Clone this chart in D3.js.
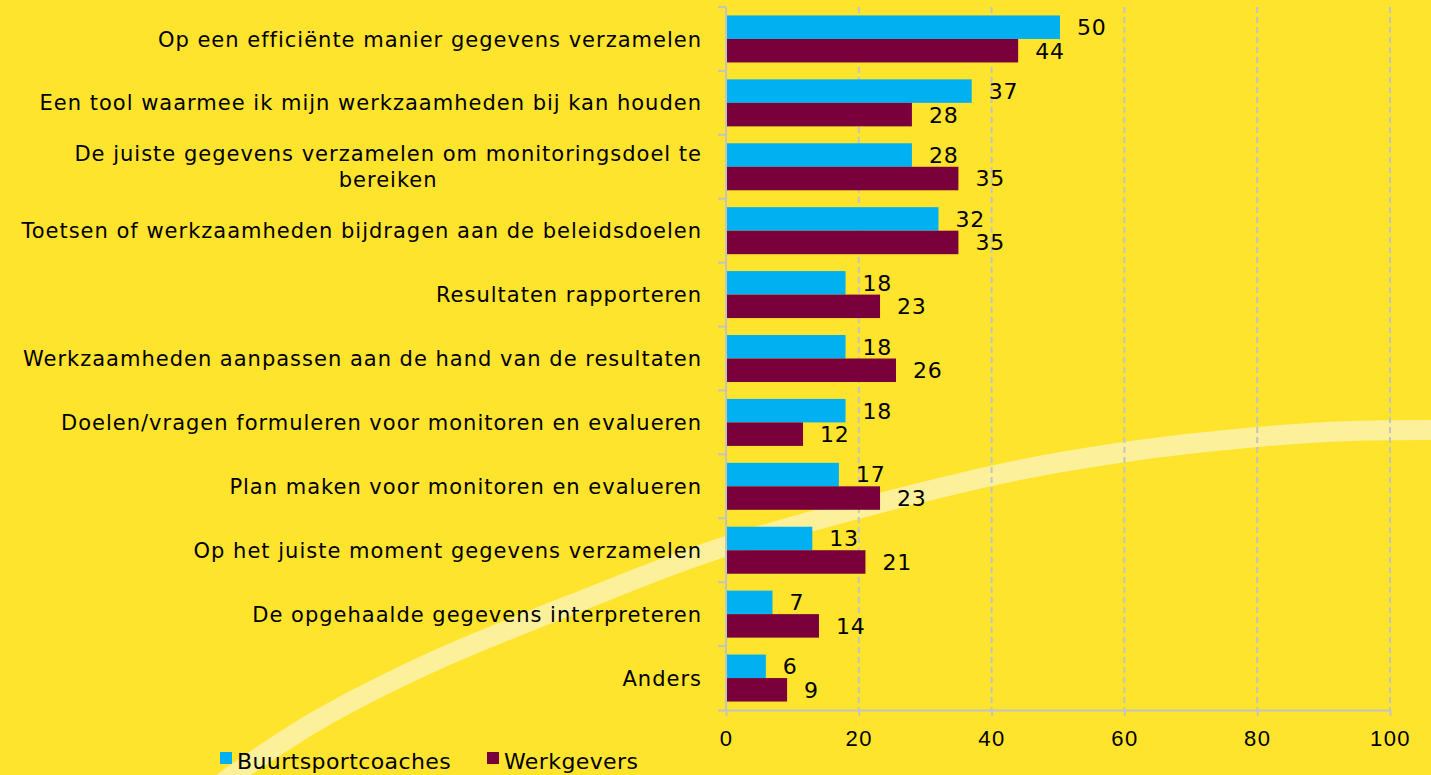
<!DOCTYPE html>
<html>
<head>
<meta charset="utf-8">
<script src="https://cdn.jsdelivr.net/npm/d3@7"></script>
<style>
  html, body { margin: 0; padding: 0; background: #ffe42d; }
  svg { display: block; font-family: "DejaVu Sans", sans-serif; }
</style>
</head>
<body>
<div id="container"></div>
<script>
const width = 1431;
const height = 775;

// data
const categories = [
  "Op een efficiënte manier gegevens verzamelen",
  "Een tool waarmee ik mijn werkzaamheden bij kan houden",
  "De juiste gegevens verzamelen om monitoringsdoel te bereiken",
  "Toetsen of werkzaamheden bijdragen aan de beleidsdoelen",
  "Resultaten rapporteren",
  "Werkzaamheden aanpassen aan de hand van de resultaten",
  "Doelen/vragen formuleren voor monitoren en evalueren",
  "Plan maken voor monitoren en evalueren",
  "Op het juiste moment gegevens verzamelen",
  "De opgehaalde gegevens interpreteren",
  "Anders"
];
const seriesNames = ["Buurtsportcoaches", "Werkgevers"];
const buurtsportcoaches = [50.3, 37, 28, 32, 18, 18, 18, 17, 13, 7, 6];
const werkgevers = [44, 28, 35, 35, 23.2, 25.6, 11.6, 23.2, 21, 14, 9.2];
const xTicks = [0, 20, 40, 60, 80, 100];
const colors = ["#00b0f0", "#7a003c"];

// decorative swoosh in the background (not data)
const swoosh = [[210, 792], [245, 767], [318, 720], [430, 663], [583, 600], [724, 547],
  [1000, 474], [1125, 452], [1257, 437], [1350, 431], [1440, 430]];

const svg = d3.select("#container").append("svg")
  .attr("width", width).attr("height", height);

svg.append("rect").attr("width", width).attr("height", height).attr("fill", "#ffe42d");

svg.append("path")
  .attr("d", d3.line().curve(d3.curveCatmullRom)(swoosh))
  .attr("fill", "none")
  .attr("stroke", "#fdf09a")
  .attr("stroke-width", 20);

const plotLeft = 726, plotRight = 1390, plotTop = 7, plotBottom = 710;

const x = d3.scaleLinear([0, 100], [plotLeft, plotRight]);
const y0 = d3.scaleBand(categories, [plotTop, plotBottom]);
const y1 = d3.scaleBand(seriesNames, [0, y0.bandwidth()]).paddingOuter(0.36);

// gridlines
svg.append("g")
  .selectAll("line")
  .data(xTicks.filter(d => d > 0))
  .join("line")
  .attr("x1", d => x(d)).attr("x2", d => x(d))
  .attr("y1", plotTop).attr("y2", plotBottom)
  .attr("stroke", "#c3c3c3")
  .attr("stroke-width", 2)
  .attr("stroke-dasharray", "6,4");

// bars
const rows = categories.map((c, i) => ({ cat: c, vals: [buurtsportcoaches[i], werkgevers[i]] }));
const grp = svg.append("g").selectAll("g")
  .data(rows)
  .join("g")
  .attr("transform", d => `translate(0,${y0(d.cat)})`);

grp.selectAll("rect")
  .data(d => d.vals.map((v, j) => ({ s: seriesNames[j], v, j })))
  .join("rect")
  .attr("x", x(0))
  .attr("y", d => y1(d.s))
  .attr("width", d => x(d.v) - x(0))
  .attr("height", y1.bandwidth())
  .attr("fill", d => colors[d.j]);

grp.selectAll("text")
  .data(d => d.vals.map((v, j) => ({ s: seriesNames[j], v, j })))
  .join("text")
  .attr("x", d => x(d.v) + 17)
  .attr("y", d => y1(d.s) + y1.bandwidth() / 2)
  .attr("dy", "0.36em")
  .attr("font-size", 22)
  .attr("letter-spacing", 0.8)
  .attr("fill", "#000")
  .text(d => d3.format(".0f")(d.v));

// x axis
const xAxis = svg.append("g")
  .attr("transform", `translate(0,${plotBottom})`)
  .call(d3.axisBottom(x).tickValues(xTicks).tickSize(6).tickPadding(14).tickSizeOuter(0));
xAxis.select(".domain").attr("stroke", "#c3c3c3").attr("stroke-width", 2)
  .attr("d", `M${plotLeft - 8},0.5H${plotRight}`);
xAxis.selectAll(".tick line").attr("stroke", "#c3c3c3").attr("stroke-width", 2);
xAxis.selectAll(".tick text").attr("font-size", 22).attr("letter-spacing", 1.5)
  .attr("fill", "#000").attr("font-family", "inherit");

// y axis (category axis)
const yAxis = svg.append("g").attr("transform", `translate(${plotLeft},0)`);
yAxis.append("line")
  .attr("x1", 0).attr("x2", 0).attr("y1", plotTop).attr("y2", plotBottom)
  .attr("stroke", "#c3c3c3").attr("stroke-width", 2);
yAxis.selectAll(".cattick")
  .data(categories.map(c => y0(c)))
  .join("line")
  .attr("x1", -8).attr("x2", 0)
  .attr("y1", d => d).attr("y2", d => d)
  .attr("stroke", "#c3c3c3").attr("stroke-width", 2);

// category labels (wrap long ones)
const labelRight = 702;
const maxW = 700;
const labels = svg.append("g").attr("font-size", 21).attr("letter-spacing", 1).attr("fill", "#000");
categories.forEach(c => {
  const cy = y0(c) + y0.bandwidth() / 2;
  const t = labels.append("text").attr("text-anchor", "end").attr("x", labelRight).text(c);
  if (t.node().getComputedTextLength() <= maxW) {
    t.attr("y", cy).attr("dy", "0.36em");
    return;
  }
  // wrap to two lines
  const words = c.split(" ");
  let line1 = [];
  let i = 0;
  for (; i < words.length; i++) {
    t.text(line1.concat(words[i]).join(" "));
    if (t.node().getComputedTextLength() > maxW) break;
    line1.push(words[i]);
  }
  const lines = [line1.join(" "), words.slice(i).join(" ")];
  t.text(lines[0]);
  const w = t.node().getComputedTextLength();
  t.remove();
  const lh = 26;
  lines.forEach((ln, k) => {
    labels.append("text")
      .attr("text-anchor", "middle")
      .attr("x", labelRight - w / 2)
      .attr("y", cy + (k - (lines.length - 1) / 2) * lh)
      .attr("dy", "0.36em")
      .text(ln);
  });
});

// legend
const legend = svg.append("g").attr("transform", "translate(220,762)");
const legendX = [0, 267];
seriesNames.forEach((s, i) => {
  const g = legend.append("g").attr("transform", `translate(${legendX[i]},0)`);
  g.append("rect").attr("x", 0).attr("y", -10).attr("width", 12).attr("height", 12).attr("fill", colors[i]);
  g.append("text").attr("x", 17).attr("y", 0).attr("dy", "0.3em").attr("font-size", 22)
    .attr("letter-spacing", 0.4).text(s);
});
</script>
</body>
</html>
